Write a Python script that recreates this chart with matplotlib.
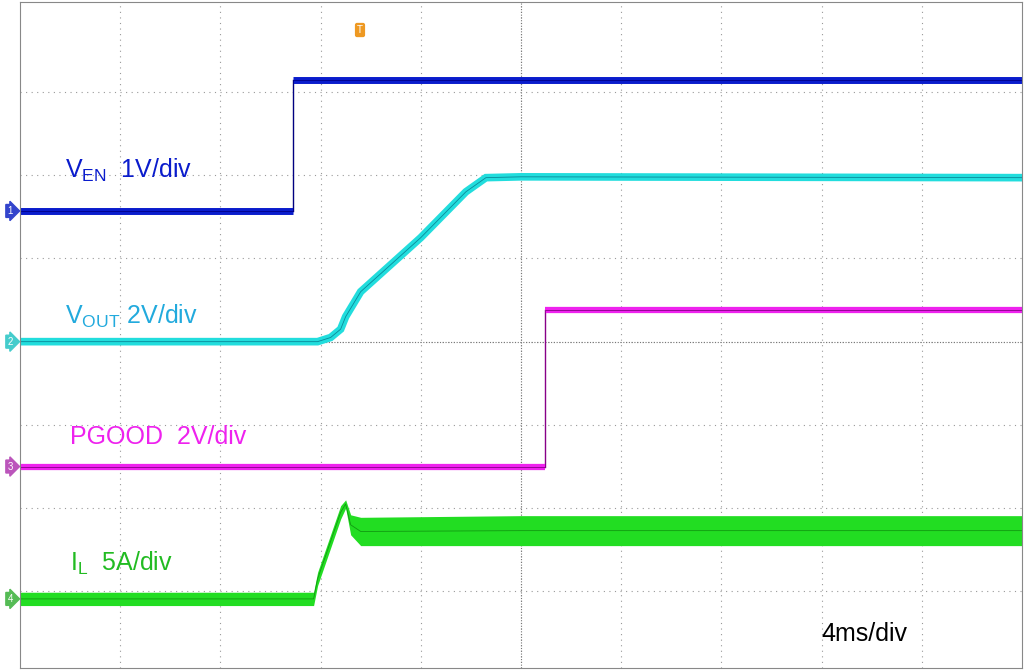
import matplotlib
matplotlib.use("Agg")
import matplotlib.pyplot as plt
import numpy as np

plt.rcParams['font.family'] = ['Liberation Sans', 'DejaVu Sans']

# time in divisions (0..10), amplitude in divisions
ven_t = [0, 2.72, 2.72, 10]
ven_v = [1.57, 1.57, 3.14, 3.14]

vout_t = [0, 2.97, 3.1, 3.2, 3.25, 3.4, 4.0, 4.45, 4.65, 5.0, 10]
vout_v = [0, 0, 0.05, 0.15, 0.3, 0.6, 1.25, 1.8, 1.97, 1.98, 1.97]

pg_t = [0, 5.24, 5.24, 10]
pg_v = [-1.50, -1.50, 0.38, 0.38]

il_t = [0, 2.93, 2.97, 3.2, 3.25, 3.3, 3.4, 5.0, 10]
il_v = [-3.09, -3.09, -2.85, -2.05, -1.95, -2.2, -2.28, -2.27, -2.27]
il_w = [0.08, 0.08, 0.08, 0.08, 0.05, 0.12, 0.17, 0.18, 0.18]

fig = plt.figure(figsize=(10.24, 6.70), dpi=100)
ax = fig.add_axes([20/1024, 2/670, 1002/1024, 666/670])
ax.set_xlim(0, 10)
ax.set_ylim(-3.92, 4.08)
ax.set_xticks([]); ax.set_yticks([])
for s in ax.spines.values():
    s.set_color("#888888"); s.set_linewidth(0.8)

# graticule
for x in range(1, 10):
    ax.axvline(x, color="#999999", lw=0.8, ls=(0, (1, 4)), zorder=0)
for y in range(-3, 4):
    ax.axhline(y, color="#999999", lw=0.8, ls=(0, (1, 4)), zorder=0)
ax.axvline(5, color="#777777", lw=0.8, ls=(0, (1, 1.5)), zorder=0)
ax.axhline(0, color="#777777", lw=0.8, ls=(0, (1, 1.5)), zorder=0)

def trace(t, v, col, edge, lw):
    ax.plot(t, v, color=col, lw=lw, solid_capstyle="butt", solid_joinstyle="miter")
    ax.plot(t, v, color=edge, lw=0.6)

# thin vertical edges for steps
ax.plot([2.72, 2.72], [1.57, 3.14], color="#000066", lw=1)
ax.plot([5.24, 5.24], [-1.5, 0.38], color="#880088", lw=1)
ax.plot(ven_t[:2], ven_v[:2], color="#0a1ccc", lw=5, solid_capstyle="butt")
ax.plot(ven_t[2:], ven_v[2:], color="#0a1ccc", lw=5, solid_capstyle="butt")
ax.plot(ven_t, ven_v, color="#000088", lw=0.6)
trace(vout_t, vout_v, "#22dddd", "#0a8899", 5.5)
ax.plot(pg_t[:2], pg_v[:2], color="#ee22ee", lw=4.5, solid_capstyle="butt")
ax.plot(pg_t[2:], pg_v[2:], color="#ee22ee", lw=4.5, solid_capstyle="butt")
ax.plot(pg_t, pg_v, color="#880088", lw=0.6)
il_v = np.array(il_v); il_w = np.array(il_w)
ax.fill_between(il_t, il_v - il_w, il_v + il_w, color="#22dd22", lw=0)
ax.plot(il_t, il_v, color="#119911", lw=0.6)

ax.text(0.45, 1.97, "V$_{\\mathregular{EN}}$  1V/div", color="#0a1ccc", fontsize=18)
ax.text(0.45, 0.22, "V$_{\\mathregular{OUT}}$ 2V/div", color="#22aadd", fontsize=18)
ax.text(0.5, -1.23, "PGOOD  2V/div", color="#ee22ee", fontsize=18)
ax.text(0.5, -2.75, "I$_{\\mathregular{L}}$  5A/div", color="#22bb22", fontsize=18)
ax.text(8.0, -3.6, "4ms/div", color="black", fontsize=18)

# channel markers
for lvl, col, lab in [(1.57, "#3344cc", "1"), (0, "#44cccc", "2"),
                      (-1.5, "#bb55bb", "3"), (-3.09, "#55bb55", "4")]:
    fig.text(10/1024, (2 + (lvl + 3.92) / 8 * 666) / 670, lab, color="white",
             fontsize=7, ha="center", va="center",
             bbox=dict(boxstyle="rarrow,pad=0.15", fc=col, ec=col))
fig.text(360/1024, 1 - 30/670, "T", color="white", fontsize=7, ha="center",
         va="center", bbox=dict(boxstyle="round,pad=0.15", fc="#ee9922", ec="#ee9922"))

fig.savefig("out.png", dpi=100)
